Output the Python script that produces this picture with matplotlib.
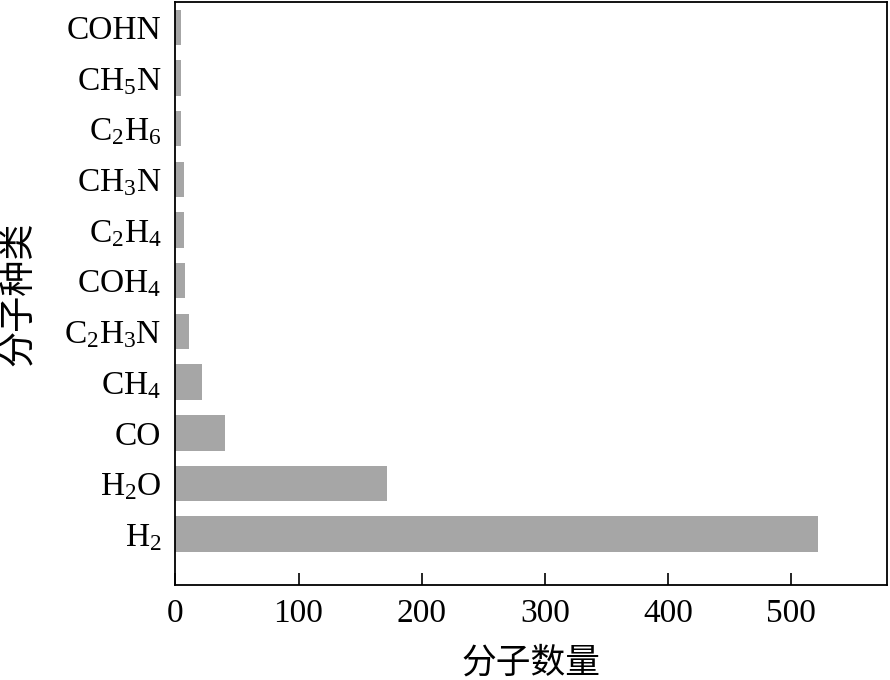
import matplotlib
matplotlib.use("Agg")
import matplotlib.pyplot as plt

plt.rcParams['font.family'] = ['Liberation Serif', 'Noto Sans CJK SC', 'DejaVu Sans']
plt.rcParams['mathtext.fontset'] = 'custom'
plt.rcParams['mathtext.rm'] = 'Liberation Serif'

molecules = [r'$\mathregular{H_2}$', r'$\mathregular{H_2O}$', 'CO', r'$\mathregular{CH_4}$',
             r'$\mathregular{C_2H_3N}$', r'$\mathregular{COH_4}$', r'$\mathregular{C_2H_4}$',
             r'$\mathregular{CH_3N}$', r'$\mathregular{C_2H_6}$', r'$\mathregular{CH_5N}$', 'COHN']
counts = [522, 172, 40, 22, 11, 8, 7, 7, 5, 5, 5]
x_ticks = [0, 100, 200, 300, 400, 500]

fig = plt.figure(figsize=(8.9, 6.8), dpi=100)
ax = fig.add_axes([0.197, 0.140, 0.8, 0.857])

ax.barh(range(len(molecules)), counts, height=0.7, color='#a6a6a6')

ax.set_xlim(0, 578)
ax.set_ylim(-1, 10.5)
ax.set_xticks(x_ticks)
ax.set_yticks(range(len(molecules)))
ax.set_yticklabels(molecules)

ax.tick_params(axis='x', direction='in', length=8.5, width=1.2, labelsize=24, pad=10)
ax.tick_params(axis='y', length=0, labelsize=24, pad=10)
for s in ax.spines.values():
    s.set_linewidth(1.3)

ax.set_xlabel('分子数量', fontsize=25, family=['Noto Sans CJK SC'], labelpad=12)
ax.set_ylabel('分子种类', fontsize=26, family=['Noto Sans CJK SC'], labelpad=20)

fig.savefig('out.png', dpi=100)
